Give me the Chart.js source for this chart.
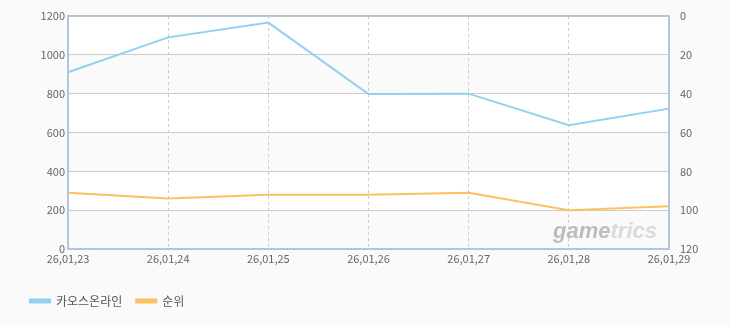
<!DOCTYPE html>
<html>
<head>
<meta charset="utf-8">
<script src="https://cdn.jsdelivr.net/npm/chart.js@4"></script>
<style>
  html, body { margin: 0; padding: 0; background: #fafafa; }
  #wrap { width: 730px; height: 325px; }
</style>
</head>
<body>
<div id="wrap"><canvas id="line-chart" width="730" height="325"></canvas></div>
<script>
const dates = ["26,01,23", "26,01,24", "26,01,25", "26,01,26", "26,01,27", "26,01,28", "26,01,29"];
const players = [910, 1090, 1166, 798, 800, 637, 723];
const ranks = [91, 94, 92, 92, 91, 100, 98];

const tickFont = { family: "'Noto Sans CJK KR', 'Liberation Sans', sans-serif", size: 11 };

// alternating bands behind the plot
const bands = {
  id: "bands",
  beforeDraw(chart) {
    const { ctx, chartArea: a, scales } = chart;
    const y = scales.y;
    ctx.save();
    ctx.fillStyle = "#ffffff";
    ctx.fillRect(a.left, a.top, a.right - a.left, a.bottom - a.top);
    ctx.fillStyle = "#fafafa";
    for (let v = 0; v < 1200; v += 400) {
      const t = y.getPixelForValue(v + 200), b = y.getPixelForValue(v);
      ctx.fillRect(a.left, t, a.right - a.left, b - t);
    }
    ctx.restore();
  },
  afterDraw(chart) {
    const { ctx, chartArea: a } = chart;
    ctx.save();
    ctx.strokeStyle = "#b3c5d8";
    ctx.lineWidth = 2;
    ctx.strokeRect(a.left, a.top, a.right - a.left, a.bottom - a.top);
    // watermark
    ctx.font = "italic bold 22px 'Liberation Sans', Arial, sans-serif";
    ctx.textBaseline = "alphabetic";
    ctx.textAlign = "left";
    const w1 = ctx.measureText("game").width, w2 = ctx.measureText("trics").width;
    const x0 = a.right - 12 - w1 - w2, yb = a.bottom - 11;
    ctx.fillStyle = "#bdbdbd";
    ctx.fillText("game", x0, yb);
    ctx.fillStyle = "#dadada";
    ctx.fillText("trics", x0 + w1, yb);
    ctx.restore();
  }
};

new Chart(document.getElementById("line-chart"), {
  type: "line",
  data: {
    labels: dates,
    datasets: [
      {
        label: "카오스온라인",
        data: players,
        yAxisID: "y",
        borderColor: "#92d0f0",
        backgroundColor: "#92d0f0",
        borderWidth: 2,
        pointRadius: 0,
        tension: 0,
      },
      {
        label: "순위",
        data: ranks,
        yAxisID: "y1",
        borderColor: "#fcc262",
        backgroundColor: "#fcc262",
        borderWidth: 2,
        pointRadius: 0,
        tension: 0,
      },
    ],
  },
  options: {
    responsive: false,
    animation: false,
    layout: { padding: { top: 16, bottom: 8, left: 16 } },
    plugins: {
      legend: {
        position: "bottom",
        align: "start",
        labels: {
          boxWidth: 20,
          boxHeight: 3,
          padding: 14,
          color: "#555",
          font: { family: "'Noto Sans CJK KR', sans-serif", size: 12 },
        },
      },
      tooltip: { enabled: false },
    },
    scales: {
      x: {
        offset: false,
        grid: { color: "#cccccc", drawTicks: false },
        border: { display: false, dash: [3, 3] },
        ticks: { color: "#666", font: tickFont, maxRotation: 0, padding: 3 },
        afterFit(s) { s.height = 32; },
      },
      y: {
        position: "left",
        min: 0,
        max: 1200,
        grid: { color: "#cccccc", drawTicks: false },
        border: { display: false },
        ticks: { stepSize: 200, color: "#666", font: tickFont, padding: 3, callback: v => String(v) },
        afterFit(s) { s.width = 52; },
      },
      y1: {
        position: "right",
        reverse: true,
        min: 0,
        max: 120,
        grid: { display: false },
        border: { display: false },
        ticks: { stepSize: 20, color: "#666", font: tickFont, padding: 3 },
        afterFit(s) { s.width = 61; },
      },
    },
  },
  plugins: [bands],
});
</script>
</body>
</html>
